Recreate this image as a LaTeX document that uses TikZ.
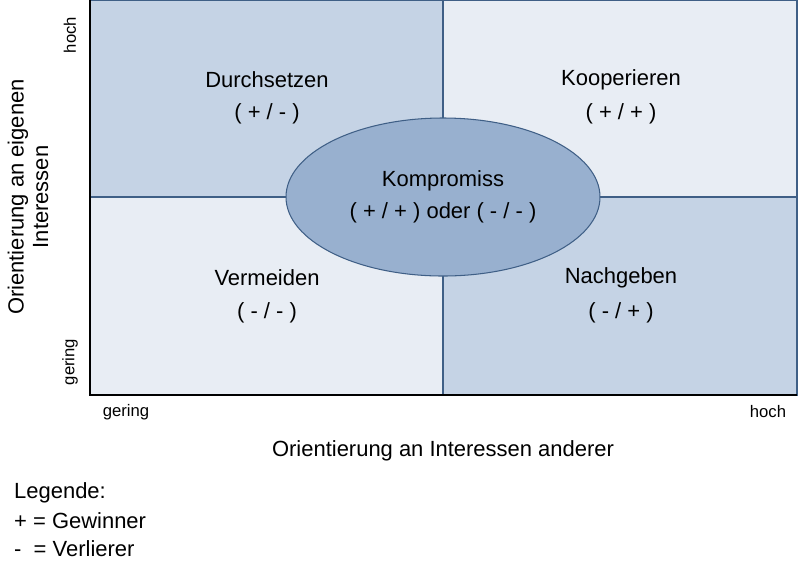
\documentclass[tikz,border=0pt]{standalone}
\usepackage{fontspec}
\setmainfont{Liberation Sans}
\definecolor{darkfield}{HTML}{C5D3E5}
\definecolor{lightfield}{HTML}{E8EDF4}
\definecolor{ovalfill}{HTML}{98B0CF}
\definecolor{edgeblue}{HTML}{3F5F86}
\begin{document}
\begin{tikzpicture}[x=0.02cm,y=-0.02cm,
    field/.style={draw=edgeblue,line width=0.6pt},
    big/.style={font=\fontsize{12.5}{14}\selectfont},
    small/.style={font=\fontsize{9.5}{11}\selectfont}]
  \useasboundingbox (0,0) rectangle (800,562);
  % Felder
  \path[field,fill=darkfield] (90,0) rectangle (443,197);
  \path[field,fill=lightfield] (443,0) rectangle (797,197);
  \path[field,fill=lightfield] (90,197) rectangle (443,395);
  \path[field,fill=darkfield] (443,197) rectangle (797,395);
  \draw[field,fill=ovalfill] (443,197) ellipse [x radius=157,y radius=79];
  % Achsen
  \draw[line width=0.8pt] (90,0) -- (90,395) -- (797,395);
  \node[big] (durch) at (267,80) {Durchsetzen};
  \node[big] (durchv) at (267,114) {( + / - )};
  \node[big] (koop) at (621,80) {Kooperieren};
  \node[big] (koopv) at (621,114) {( + / + )};
  \node[big] (komp) at (443,181) {Kompromiss};
  \node[big] (kompv) at (443,213) {( + / + ) oder ( - / - )};
  \node[big] (verm) at (267,278) {Vermeiden};
  \node[big] (vermv) at (267,313) {( - / - )};
  \node[big] (nach) at (621,278) {Nachgeben};
  \node[big] (nachv) at (621,313) {( - / + )};
  \node[small] (xlow) at (126,412) {gering};
  \node[small] (xhigh) at (768,412) {hoch};
  \node[big] (xtitle) at (443,451) {Orientierung an Interessen anderer};
  \node[small,rotate=90] (yhigh) at (70,35) {hoch};
  \node[small,rotate=90] (ylow) at (70,362) {gering};
  \node[big,rotate=90,align=center] (ytitle) at (28,197) {Orientierung an eigenen\\Interessen};
  \node[big,anchor=west] (leg) at (8,493) {Legende:};
  \node[big,anchor=west] (win) at (8,521) {+ = Gewinner};
  \node[big,anchor=west] (lose) at (8,549) {-\ \ = Verlierer};
\end{tikzpicture}
\end{document}
